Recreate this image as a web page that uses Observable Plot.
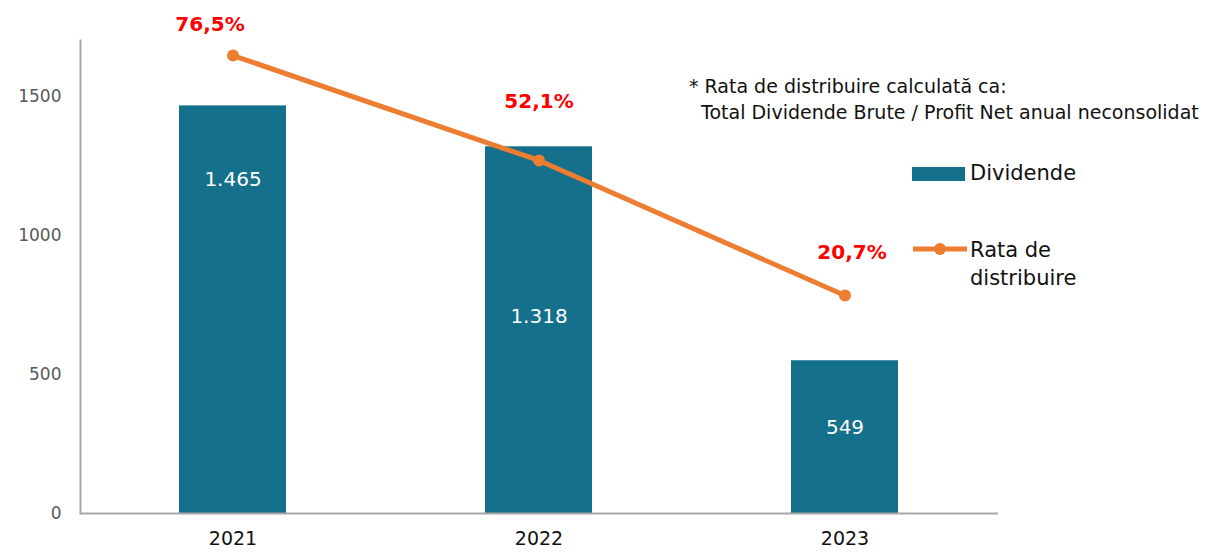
<!DOCTYPE html>
<html>
<head>
<meta charset="utf-8">
<script src="https://cdn.jsdelivr.net/npm/d3@7"></script>
<script src="https://cdn.jsdelivr.net/npm/@observablehq/plot@0.6"></script>
<style>
  html, body { margin: 0; padding: 0; background: #fff; }
  #wrap { position: relative; width: 1219px; height: 552px; font-family: "DejaVu Sans", sans-serif; }
  #note { position: absolute; left: 689px; top: 73px; font-size: 19px; line-height: 26px; color: #111; white-space: pre; }
  .leg { position: absolute; left: 912px; font-size: 21px; color: #111; }
  .sw { position: absolute; left: 0; }
</style>
</head>
<body>
<div id="wrap">
  <div id="chart"></div>
  <div id="note">* Rata de distribuire calculată ca:
  Total Dividende Brute / Profit Net anual neconsolidat</div>
  <div class="leg" id="leg1" style="top:160px;">
    <div class="sw" style="top:7px;width:53px;height:14px;background:#15708C;"></div>
    <div style="margin-left:58px;line-height:26px;">Dividende</div>
  </div>
  <div class="leg" id="leg2" style="top:236px;">
    <svg class="sw" width="56" height="26" style="top:0;"><line x1="1" y1="13" x2="55" y2="13" stroke="#ED7D31" stroke-width="5"/><circle cx="28" cy="13" r="6" fill="#ED7D31"/></svg>
    <div style="margin-left:58px;line-height:28px;">Rata de<br>distribuire</div>
  </div>
</div>
<script>
const years = ["2021", "2022", "2023"];
const dividende = [1465, 1318, 549];
const dividendeLabels = ["1.465", "1.318", "549"];
const rata = [76.5, 52.1, 20.7];
const rataLabels = ["76,5%", "52,1%", "20,7%"];
const yTicks = [0, 500, 1000, 1500];
const yDomain = [0, 1700];
const rataDomain = [-30, 80];

const data = years.map((y, i) => ({year: y, div: dividende[i], divLabel: dividendeLabels[i], rata: rata[i], rataLabel: rataLabels[i]}));
// secondary axis (percent) mapped onto primary y scale
const toY = p => yDomain[0] + (p - rataDomain[0]) / (rataDomain[1] - rataDomain[0]) * (yDomain[1] - yDomain[0]);

const barLabelDy = [74, 170, 67];
const rataLabelDx = [-23, 0, 7];
const rataLabelDy = [-31, -59, -43];

const marks = [
  Plot.barY(data, {x: "year", y: "div", fill: "#15708C"}),
  Plot.ruleY([0], {stroke: "#A6A6A6", strokeWidth: 2}),
  Plot.frame({anchor: "left", stroke: "#A6A6A6", strokeWidth: 2}),
  Plot.axisY({ticks: yTicks, tickFormat: d => String(d), tickSize: 0, tickPadding: 19, fontSize: 17, color: "#595959", label: null}),
  Plot.axisX({tickSize: 0, tickPadding: 18, fontSize: 19, color: "#111", label: null}),
  Plot.line(data, {x: "year", y: d => toY(d.rata), stroke: "#ED7D31", strokeWidth: 5}),
  Plot.dot(data, {x: "year", y: d => toY(d.rata), r: 6, fill: "#ED7D31"})
];
data.forEach((d, i) => {
  marks.push(Plot.text([d], {x: "year", y: "div", text: "divLabel", fill: "white", fontSize: 20, dy: barLabelDy[i]}));
  marks.push(Plot.text([d], {x: "year", y: e => toY(e.rata), text: "rataLabel", fill: "#FF0000", fontSize: 20, fontWeight: "bold", dx: rataLabelDx[i], dy: rataLabelDy[i]}));
});

const chart = Plot.plot({
  width: 1219,
  height: 552,
  marginLeft: 80,
  marginRight: 221,
  marginTop: 40,
  marginBottom: 39,
  style: {fontFamily: "DejaVu Sans, sans-serif", background: "white"},
  x: {domain: years, paddingInner: 0.65, paddingOuter: 0.325, label: null},
  y: {domain: yDomain, label: null},
  marks
});
document.getElementById("chart").appendChild(chart);
</script>
</body>
</html>
